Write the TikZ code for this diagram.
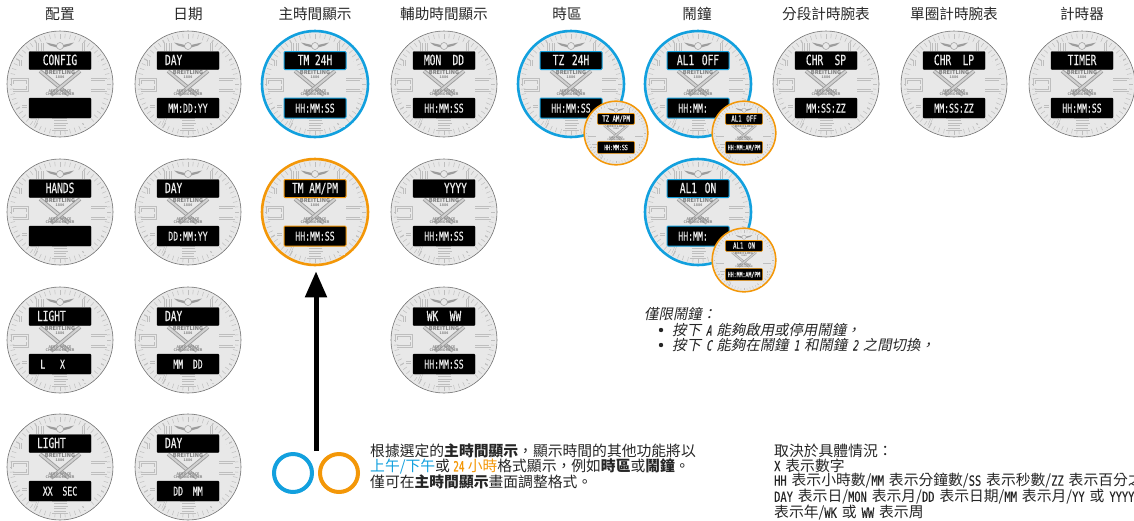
\documentclass[tikz,border=0pt]{standalone}
\usepackage{fontspec}
\usetikzlibrary{arrows.meta}
\setmainfont{Noto Sans CJK TC}
\newfontfamily\cjkit[FakeSlant=0.2]{Noto Sans CJK TC}
\newfontfamily\lcd[FakeStretch=0.68,FakeBold=0.5]{DejaVu Sans Mono}
\newfontfamily\lcdn[FakeStretch=0.74,FakeBold=0.3]{DejaVu Sans Mono}
\newfontfamily\lcdb[FakeStretch=0.66,FakeBold=1]{DejaVu Sans Mono}
\newfontfamily\lcdit[FakeStretch=0.66,FakeSlant=0.2,FakeBold=0.3]{DejaVu Sans Mono}
\definecolor{ringblue}{HTML}{12A0DE}
\definecolor{ringorange}{HTML}{F39708}
\definecolor{dial}{HTML}{E8E8E8}
\definecolor{marks}{HTML}{BEBEBE}
\definecolor{logogray}{HTML}{9C9C9C}
\definecolor{txt}{HTML}{262626}
\newcommand\fs[1]{\fontsize{#1}{#1}\selectfont}
\newcommand\lt[1]{{\lcdn\fs{14}#1}}
\newcommand\li[1]{{\lcdit\fs{14}#1}}
\newcommand\wsc{1}
\tikzset{
  facecircle/.style={circle,fill=dial,inner sep=0pt,transform shape},
  plainring/.style={facecircle,draw=black!55,line width=\wsc*0.6pt,minimum size=106pt},
  bluering/.style={facecircle,draw=ringblue,line width=\wsc*2.6pt,minimum size=106pt},
  orangering/.style={facecircle,draw=ringorange,line width=\wsc*2.6pt,minimum size=106pt},
  dispbox/.style={fill=black,inner sep=0pt,rounded corners=1pt,transform shape,minimum width=62pt,text=white!92!black,text height=9pt,text depth=0pt,align=center},
  plaindisp/.style={dispbox,draw=black},
  bluedisp/.style={dispbox,draw=ringblue,line width=\wsc*1pt},
  orangedisp/.style={dispbox,draw=ringorange,line width=\wsc*1pt},
  topdisp/.style={minimum height=18pt,font=\lcd\fs{14}},
  botdisp/.style={minimum height=20pt,font=\lcd\fs{12}},
  digit/.style={draw=marks,line width=\wsc*0.5pt,double=dial,double distance=\wsc*1.1pt,line join=miter},
  tick/.style={draw=marks,line width=\wsc*0.5pt},
  hourtick/.style={draw=marks,line width=\wsc*1pt},
  logo/.style={draw=logogray,line width=\wsc*0.9pt,double=dial!70!logogray,double distance=\wsc*2pt},
  dialtext/.style={inner sep=0pt,transform shape,text=black!50,font=\fs{5.5}\bfseries},
  dialsmall/.style={dialtext,text=black!45,font=\fs{3.6}\bfseries},
  heading/.style={inner sep=0pt,text=txt,font=\fs{14.6}},
  noteblock/.style={anchor=north west,inner sep=0pt,text=txt,align=left,font={\fontsize{14.8}{14.5}\selectfont}},
  codeblock/.style={noteblock,font={\fontsize{14.8}{14.5}\selectfont\spaceskip=5pt\relax}},
  italline/.style={anchor=west,inner sep=0pt,text=txt,text height=11pt,text depth=2pt,font={\fs{14.4}\cjkit\spaceskip=5pt\relax}},
  bulletdot/.style={circle,fill=txt,inner sep=0pt,minimum size=4.4pt},
  arrowline/.style={draw=black,line width=5pt,-{Triangle[length=26pt,width=21pt]}},
  legendring/.style={circle,line width=4pt,minimum size=38pt,inner sep=0pt},
}
\newcommand\dg[5]{\draw[digit,shift={(#1,#2)},xscale=#3,yscale=#4] #5;}
\newcommand\watch[8]{%
  \begin{scope}[shift={(#2,#3)},scale=#4]
  \renewcommand\wsc{#4}%
  \node[#5] (#1) at (0,0) {};
  \foreach \a in {0,6,...,354} {\draw[tick] (\a:46) -- (\a:50.5);}
  \foreach \a in {30,60,...,360} {\draw[hourtick] (\a:45) -- (\a:50.5);}
  % numerals
  \dg{-47.5}{-4.5}{15}{11}{(1,.5)--(0,.5)--(0,0)--(1,0)--(1,1)--(0,1)}
  \dg{31}{-4.5}{15}{11}{(0,0)--(1,0)--(1,1)--(0,1) (0,.5)--(1,.5)}
  \dg{-7}{35.5}{14}{10}{(1,0)--(0,0)--(0,1)--(1,1)--(1,.5)--(0,.5)}
  \dg{-24}{-41}{3}{8}{(.5,0)--(.5,1)}
  \dg{-19}{-41}{3}{8}{(.5,0)--(.5,1)}
  \dg{22}{-41}{3}{8}{(.5,0)--(.5,1)}
  \dg{-41}{-24}{3}{6}{(.5,0)--(.5,1)}
  \dg{-37}{-24}{5}{6}{(0,0)--(1,0)--(1,1)--(0,1)--cycle}
  \dg{34}{-24}{6}{6}{(0,0)--(1,0)--(1,.5)--(0,.5)--(0,1)--(1,1)}
  \dg{-39}{20}{7}{5}{(0,0)--(1,0)--(1,1)--(0,1)--cycle (0,.5)--(1,.5)}
  \dg{34}{19}{6}{6}{(0,0)--(0,.5)--(1,.5) (1,0)--(1,1)}
  \dg{-29}{34}{7}{8}{(0,0)--(1,0)--(.5,1)}
  \dg{22}{34}{7}{8}{(1,0)--(0,0)--(0,.5)--(1,.5)--(1,1)--(0,1)}
  % wings
  \fill[logogray] (-3,-39) -- (-14,-41.5) -- (-10,-38.5) -- (-3,-36.5) -- cycle;
  \fill[logogray] (3,-39) -- (14,-41.5) -- (10,-38.5) -- (3,-36.5) -- cycle;
  \draw[tick,draw=logogray,fill=dial] (0,-38) circle (3.5);
  % logo
  \draw[logo] (-20,-13) -- (9,11);
  \draw[logo] (20,-13) -- (-9,11);
  \node[dialtext] (#1br) at (0,-12) {BREITLING};
  \node[dialsmall] (#1yr) at (0,-7) {1884};
  \node[dialsmall] (#1ae) at (0,7) {AERO-SPACE};
  \node[dialsmall] (#1ch) at (0,10.5) {CHRONOMETER};
  % displays
  \node[#6,topdisp] (#1t) at (0,-23.5) {#7};
  \node[#6,botdisp] (#1b) at (0,24) {#8};
  \end{scope}%
}
\begin{document}
\begin{tikzpicture}[x=1pt,y=-1pt]
\useasboundingbox (0,0) rectangle (1134,520);
% headings
\node[heading] (h1) at (60,14) {配置};
\node[heading] (h2) at (188,14) {日期};
\node[heading] (h3) at (315,14) {主時間顯示};
\node[heading] (h4) at (444,14) {輔助時間顯示};
\node[heading] (h5) at (567,14) {時區};
\node[heading] (h6) at (697,14) {鬧鐘};
\node[heading] (h7) at (826,14) {分段計時腕表};
\node[heading] (h8) at (954,14) {單圈計時腕表};
\node[heading] (h9) at (1082,14) {計時器};
% column 1
\watch{cfg}{60}{84}{1}{plainring}{plaindisp}{CONFIG}{}
\watch{hands}{60}{212}{1}{plainring}{plaindisp}{HANDS}{}
\watch{light}{60}{340}{1}{plainring}{plaindisp}{LIGHT\phantom{XXX}}{L~~~X\phantom{XXX}}
\watch{lightb}{60}{467}{1}{plainring}{plaindisp}{LIGHT\phantom{XXX}}{XX~~SEC}
% column 2
\watch{da}{188}{84}{1}{plainring}{plaindisp}{DAY\phantom{XXXXX}}{MM:DD:YY}
\watch{db}{188}{212}{1}{plainring}{plaindisp}{DAY\phantom{XXXXX}}{DD:MM:YY}
\watch{dc}{188}{340}{1}{plainring}{plaindisp}{DAY\phantom{XXXXX}}{MM~~DD}
\watch{dd}{188}{467}{1}{plainring}{plaindisp}{DAY\phantom{XXXXX}}{DD~~MM}
% column 3
\watch{tmf}{315}{84}{1}{bluering}{bluedisp}{TM 24H}{HH:MM:SS}
\watch{tmt}{315}{212}{1}{orangering}{orangedisp}{TM AM/PM}{HH:MM:SS}
% column 4
\watch{sa}{444}{84}{1}{plainring}{plaindisp}{MON~~DD}{HH:MM:SS}
\watch{sb}{444}{212}{1}{plainring}{plaindisp}{\phantom{XXXX}YYYY}{HH:MM:SS}
\watch{sc}{444}{340}{1}{plainring}{plaindisp}{WK~~WW}{HH:MM:SS}
% time zone
\watch{tz}{571}{84}{1}{bluering}{bluedisp}{TZ~\hspace{2pt}24H}{HH:MM:SS}
\watch{tzs}{616}{133}{0.6}{orangering}{orangedisp}{TZ AM/PM}{HH:MM:SS}
% alarm
\watch{alon}{698}{212}{1}{bluering}{bluedisp}{AL1~\hspace{2pt}ON}{HH:MM:\phantom{XX}}
\watch{alons}{744}{260}{0.6}{orangering}{orangedisp}{AL1~\hspace{2pt}ON}{HH:MM:AM/PM}
\watch{aloff}{698}{84}{1}{bluering}{bluedisp}{AL1~\hspace{2pt}OFF}{HH:MM:\phantom{XX}}
\watch{aloffs}{744}{133}{0.6}{orangering}{orangedisp}{AL1~\hspace{2pt}OFF}{HH:MM:AM/PM}
% others
\watch{chr}{826}{84}{1}{plainring}{plaindisp}{CHR~~SP}{MM:SS:ZZ}
\watch{lap}{954}{84}{1}{plainring}{plaindisp}{CHR~~LP}{MM:SS:ZZ}
\watch{tim}{1082}{84}{1}{plainring}{plaindisp}{TIMER}{HH:MM:SS}
% arrow
\coordinate (arrowstart) at (316,451);
\draw[arrowline,shorten >=5pt] (arrowstart) -- (arrowstart |- tmt.south);
% legend
\node[legendring,draw=ringblue] (legblue) at (293,473) {};
\node[legendring,draw=ringorange] (legorange) at (339,473) {};
% central note
\node[noteblock] (note) at (370,444) {根據選定的\textbf{主時間顯示}，顯示時間的其他功能將以\\
\textcolor{ringblue}{上午/下午}或 \textcolor{ringorange}{{\lcdb\fs{14}24} 小時}格式顯示，例如\textbf{時區}或\textbf{鬧鐘}。\\
僅可在\textbf{主時間顯示}畫面調整格式。};
% alarm note
\node[italline] (a1) at (644,315) {僅限鬧鐘：};
\node[bulletdot] (b1) at (661,330) {};
\node[italline] (a2) at (672,331) {按下 \li{A} 能夠啟用或停用鬧鐘，};
\node[bulletdot] (b2) at (661,345) {};
\node[italline] (a3) at (672,346) {按下 \li{C} 能夠在鬧鐘 \li{1} 和鬧鐘 \li{2} 之間切換，};
% legend of codes
\node[codeblock] (codes) at (774,444) {取決於具體情況：\\
\lt{X} 表示數字\\
\lt{HH} 表示小時數/\lt{MM} 表示分鐘數/\lt{SS} 表示秒數/\lt{ZZ} 表示百分之\\
\lt{DAY} 表示日/\lt{MON} 表示月/\lt{DD} 表示日期/\lt{MM} 表示月/\lt{YY} 或 \lt{YYYY}\\
表示年/\lt{WK} 或 \lt{WW} 表示周};
\end{tikzpicture}
\end{document}
